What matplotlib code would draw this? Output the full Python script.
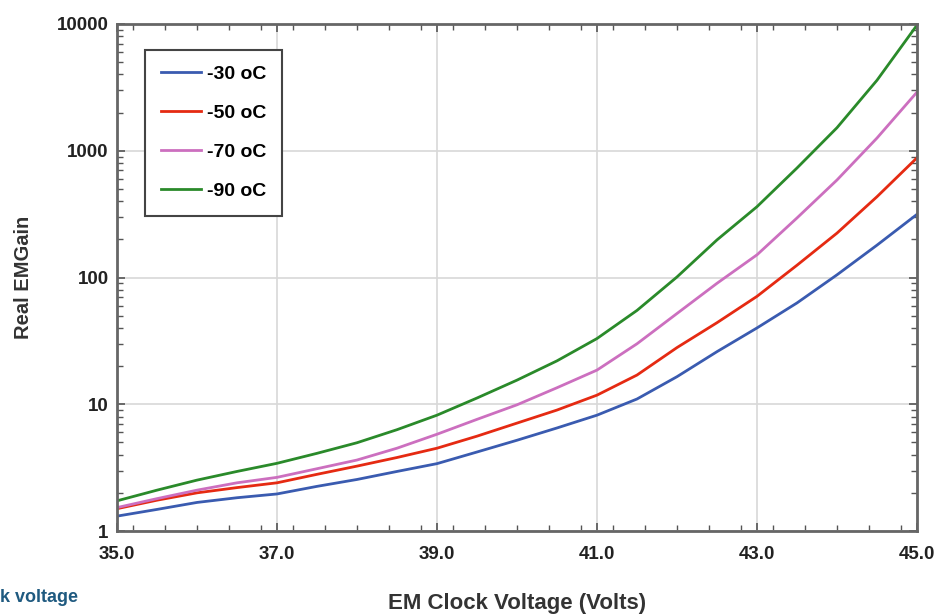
import matplotlib
matplotlib.use('Agg')
import matplotlib.pyplot as plt
from matplotlib.ticker import MultipleLocator, FixedLocator, FixedFormatter, LogLocator, NullFormatter
import numpy as np

plt.rcParams['font.family'] = ['Liberation Sans', 'DejaVu Sans']
plt.rcParams['font.weight'] = 'bold'

# EM clock voltage (Volts)
voltage = [35.0, 35.5, 36.0, 36.5, 37.0, 37.5, 38.0, 38.5, 39.0, 39.5, 40.0,
           40.5, 41.0, 41.5, 42.0, 42.5, 43.0, 43.5, 44.0, 44.5, 45.0]

# real EM gain
gain_m30 = [1.31, 1.48, 1.68, 1.83, 1.96, 2.25, 2.55, 2.95, 3.4, 4.2, 5.2,
            6.5, 8.2, 11.0, 16.5, 26, 40, 63, 105, 180, 315]
gain_m50 = [1.5, 1.75, 2.0, 2.2, 2.4, 2.8, 3.25, 3.8, 4.5, 5.6, 7.1,
            9.0, 11.8, 17, 28, 44, 71, 125, 224, 434, 880]
gain_m70 = [1.53, 1.8, 2.1, 2.4, 2.65, 3.1, 3.63, 4.5, 5.8, 7.6, 9.9,
            13.5, 18.6, 30, 52, 90, 151, 295, 588, 1260, 2900]
gain_m90 = [1.73, 2.1, 2.52, 2.95, 3.42, 4.1, 4.97, 6.3, 8.2, 11.2, 15.5,
            22, 33, 55, 101, 198, 362, 731, 1520, 3600, 9800]

labels = ['-30 oC', '-50 oC', '-70 oC', '-90 oC']
colors = ['#3a5bb0', '#e52a12', '#cc6fbf', '#2a8a2a']
x_ticks = [35.0, 37.0, 39.0, 41.0, 43.0, 45.0]
y_ticks = [1, 10, 100, 1000, 10000]

fig = plt.figure(figsize=(9.41, 6.16), dpi=100)
ax = fig.add_axes([117 / 941, 1 - 531 / 616, 800 / 941, 507 / 616])

for g, lab, c in zip([gain_m30, gain_m50, gain_m70, gain_m90], labels, colors):
    ax.plot(voltage, g, color=c, lw=2.0, label=lab)

ax.set_yscale('log')
ax.set_xlim(35, 45)
ax.set_ylim(1, 10000)

ax.xaxis.set_major_locator(FixedLocator(x_ticks))
ax.xaxis.set_major_formatter(FixedFormatter(['%.1f' % v for v in x_ticks]))
ax.xaxis.set_minor_locator(MultipleLocator(0.4))
ax.yaxis.set_major_locator(FixedLocator(y_ticks))
ax.yaxis.set_major_formatter(FixedFormatter([str(v) for v in y_ticks]))
ax.yaxis.set_minor_locator(LogLocator(base=10, subs=np.arange(2, 10)))
ax.yaxis.set_minor_formatter(NullFormatter())

ax.tick_params(which='both', direction='in', top=True, right=True, color='#555555')
ax.tick_params(which='major', length=6, width=1.2, labelsize=13.5, labelcolor='#222222')
ax.tick_params(axis='x', which='major', pad=11)
ax.tick_params(axis='y', which='major', pad=6)
ax.tick_params(which='minor', length=4, width=1.0)

ax.grid(True, which='major', color='#d8d8d8', lw=1.2)
ax.set_axisbelow(True)
for s in ax.spines.values():
    s.set_color('#666666')
    s.set_linewidth(2)

ax.set_ylabel('Real EMGain', fontsize=14.5, fontweight='bold', labelpad=17, color='#333333')
fig.text(517 / 941, 2 / 616, 'EM Clock Voltage (Volts)', ha='center', va='bottom',
         fontsize=16, fontweight='bold', color='#333333')
fig.text(0.0, 18 / 616, 'k voltage', ha='left', va='center',
         fontsize=13, fontweight='bold', color='#1f5a80')

leg = ax.legend(loc='upper left', bbox_to_anchor=(145 / 941, 1 - 50 / 616),
                bbox_transform=fig.transFigure, borderaxespad=0,
                fontsize=14, fancybox=False, framealpha=1,
                edgecolor='#444444', labelspacing=1.1, handlelength=2.1,
                handletextpad=0.3, borderpad=0.8)
leg.get_frame().set_linewidth(1.5)

fig.savefig('out.png', dpi=100)
